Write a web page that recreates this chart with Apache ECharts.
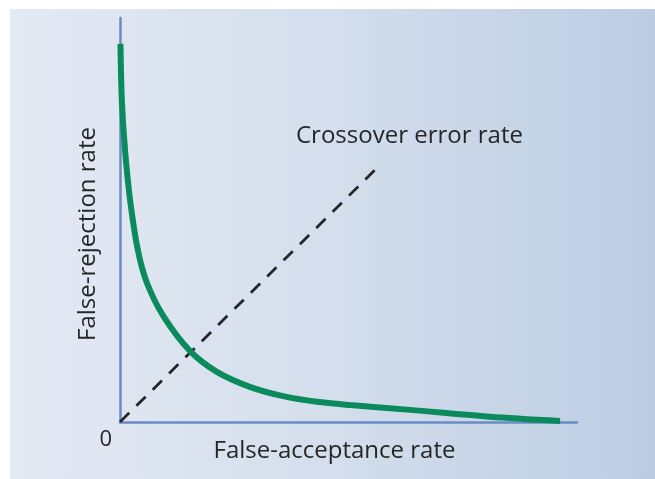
<!DOCTYPE html>
<html>
<head>
<meta charset="utf-8">
<script src="https://cdn.jsdelivr.net/npm/echarts@6/dist/echarts.min.js"></script>
<style>
  html, body { margin: 0; padding: 0; background: #fff; }
  #chart { width: 655px; height: 479px; }
</style>
</head>
<body>
<div id="chart"></div>
<script>
// false-acceptance rate (x) vs false-rejection rate (y), in % of axis length
var farValues = [0.1, 0.4, 1.1, 2.2, 3.9, 5.9, 9.6, 15.3, 21.2, 28.4, 35.7, 43.1, 50.3, 63.5, 81.0, 96.3];
var frrValues = [93.6, 79.7, 67.3, 55.0, 42.6, 34.4, 26.0, 17.6, 12.4, 8.7, 6.4, 5.0, 4.2, 3.0, 1.3, 0.25];
// dashed equal-error line
var eerX = [0, 55.8];
var eerY = [0, 62.4];
var xTitle = 'False-acceptance rate';
var yTitle = 'False-rejection rate';
var noteText = 'Crossover error rate';

var chart = echarts.init(document.getElementById('chart'));

var curve = farValues.map(function (x, i) { return [x, frrValues[i]]; });
var eer = eerX.map(function (x, i) { return [x, eerY[i]]; });

var font = 'Open Sans';
var ink = '#262626';

chart.setOption({
    animation: false,
    graphic: [{
        type: 'rect',
        z: -10,
        shape: { x: 10, y: 9, width: 645, height: 470 },
        style: {
            fill: new echarts.graphic.LinearGradient(0, 0, 1, 0, [
                { offset: 0, color: '#e4eaf4' },
                { offset: 0.5, color: '#d4deec' },
                { offset: 1, color: '#bccde3' }
            ])
        }
    }, {
        type: 'text',
        left: 296,
        top: 124,
        style: {
            text: noteText,
            font: '24px ' + font,
            fill: ink
        }
    }],
    grid: {
        left: 120,
        right: 78,
        top: 18,
        bottom: 57,
        containLabel: false,
        outerBoundsMode: 'none'
    },
    xAxis: {
        type: 'value',
        min: 0,
        max: 100,
        interval: 100,
        splitLine: { show: false },
        axisTick: { show: false },
        axisLine: { lineStyle: { color: '#6a8cc6', width: 2.5 } },
        axisLabel: {
            formatter: function (v) { return v === 0 ? '0' : ''; },
            align: 'right',
            padding: [0, 8, 0, 0],
            margin: 7,
            fontSize: 22,
            fontFamily: font,
            color: ink
        },
        name: xTitle,
        nameLocation: 'middle',
        nameGap: 17,
        nameMoveOverlap: false,
        nameTextStyle: { fontSize: 24, fontFamily: font, color: ink, padding: [0, 28, 0, 0] }
    },
    yAxis: {
        type: 'value',
        min: 0,
        max: 100,
        interval: 100,
        splitLine: { show: false },
        axisTick: { show: false },
        axisLabel: { show: false },
        axisLine: { lineStyle: { color: '#6a8cc6', width: 2.5 } },
        name: yTitle,
        nameLocation: 'middle',
        nameGap: 20,
        nameRotate: 90,
        nameMoveOverlap: false,
        nameTextStyle: { fontSize: 24, fontFamily: font, color: ink, padding: [0, 28, 0, 0] }
    },
    series: [{
        type: 'line',
        data: eer,
        symbol: 'none',
        lineStyle: { color: '#262626', width: 2.8, type: [13, 10] },
        z: 2
    }, {
        type: 'line',
        data: curve,
        symbol: 'none',
        smooth: 0.3,
        lineStyle: { color: '#0b8a5c', width: 6, cap: 'butt' },
        z: 3
    }]
});
</script>
</body>
</html>
